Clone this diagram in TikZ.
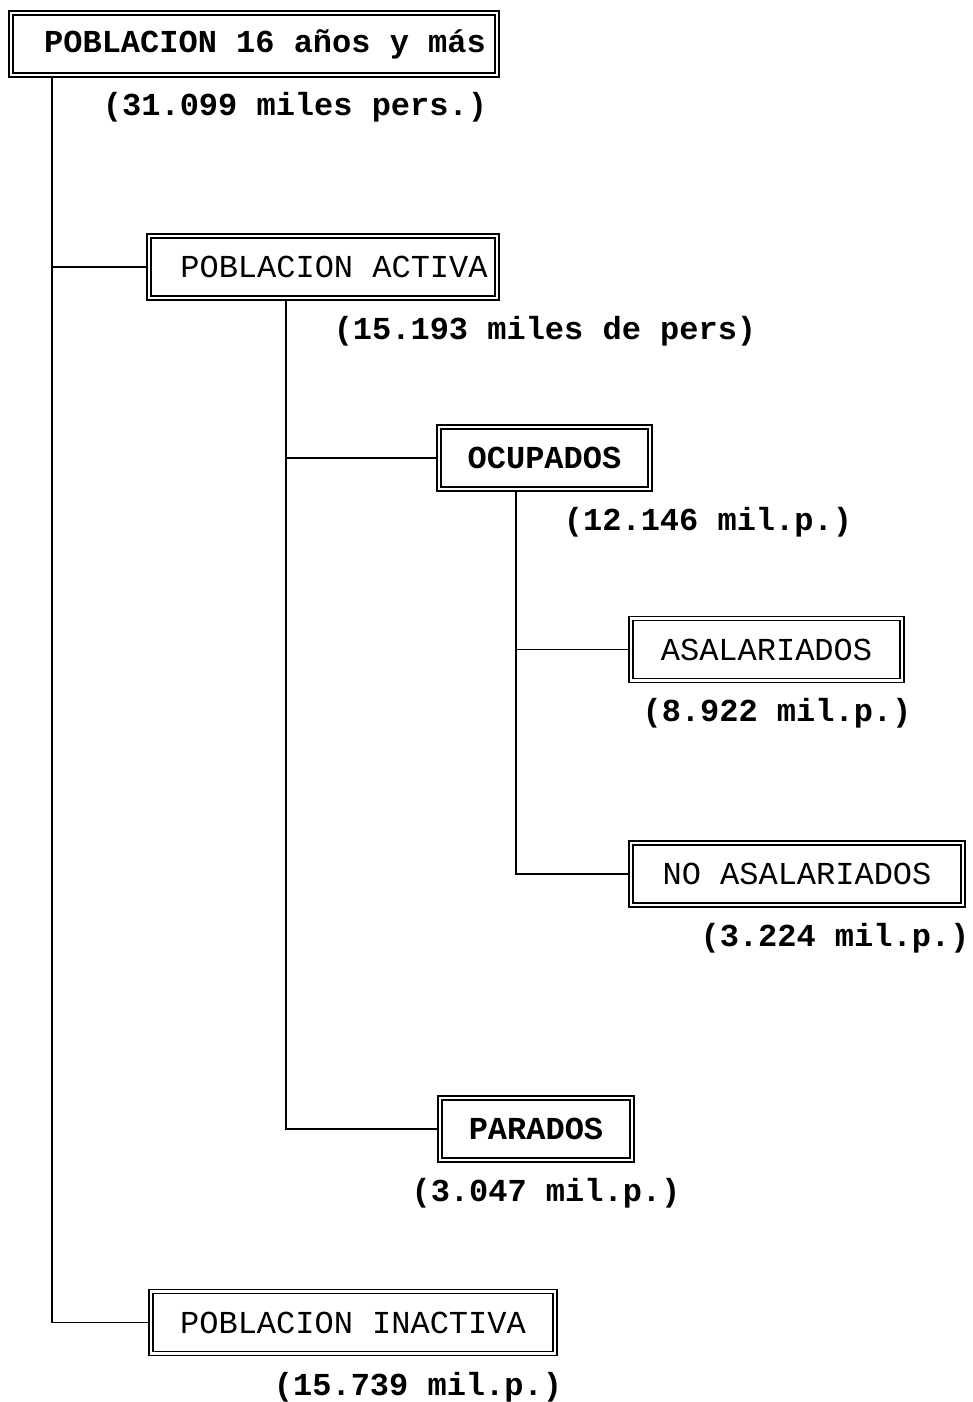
\documentclass[tikz,border=0pt]{standalone}
\usepackage{fontspec}
\setmainfont{Liberation Mono}
\begin{document}
\begin{tikzpicture}[x=1pt,y=-1pt,
  box/.style={draw, line width=1.4pt, double, double distance=2.6pt,
    minimum height=62pt, inner sep=0pt, font=\fontsize{32}{36}\selectfont},
  lbl/.style={inner sep=0pt, font=\fontsize{32}{36}\selectfont\bfseries},
  conn/.style={line width=1.8pt}]
\useasboundingbox (0,0) rectangle (972,1402);
% boxes
\node[box, minimum width=486pt, font=\fontsize{32}{36}\selectfont\bfseries] (pob) at (254,44) {\hspace*{22pt}POBLACION 16 años y más};
\node[box, minimum width=348pt] (act) at (323,267) {\hspace*{22pt}POBLACION ACTIVA};
\node[box, minimum width=211pt, font=\fontsize{32}{36}\selectfont\bfseries] (ocu) at (544.5,458) {OCUPADOS};
\node[box, minimum width=271pt] (asa) at (766.5,649.5) {ASALARIADOS};
\node[box, minimum width=332pt] (noa) at (797,874) {NO ASALARIADOS};
\node[box, minimum width=192pt, font=\fontsize{32}{36}\selectfont\bfseries] (par) at (536,1129) {PARADOS};
\node[box, minimum width=404pt] (ina) at (353,1322.5) {POBLACION INACTIVA};
% labels
\node[lbl] (lpob) at (295,107) {(31.099 miles pers.)};
\node[lbl] (lact) at (545,331) {(15.193 miles de pers)};
\node[lbl] (locu) at (708,522) {(12.146 mil.p.)};
\node[lbl] (lasa) at (777,713) {(8.922 mil.p.)};
\node[lbl] (lnoa) at (835,938) {(3.224 mil.p.)};
\node[lbl] (lpar) at (546,1193) {(3.047 mil.p.)};
\node[lbl] (lina) at (418,1387) {(15.739 mil.p.)};
% connectors
\coordinate (t1) at (52,0);
\coordinate (t2) at (286,0);
\coordinate (t3) at (516,0);
\draw[conn] (pob.south -| t1) |- (ina.west);
\draw[conn] (act.west -| t1) -- (act.west);
\draw[conn] (act.south -| t2) |- (par.west);
\draw[conn] (ocu.west -| t2) -- (ocu.west);
\draw[conn] (ocu.south -| t3) |- (noa.west);
\draw[conn] (asa.west -| t3) -- (asa.west);
\end{tikzpicture}
\end{document}
